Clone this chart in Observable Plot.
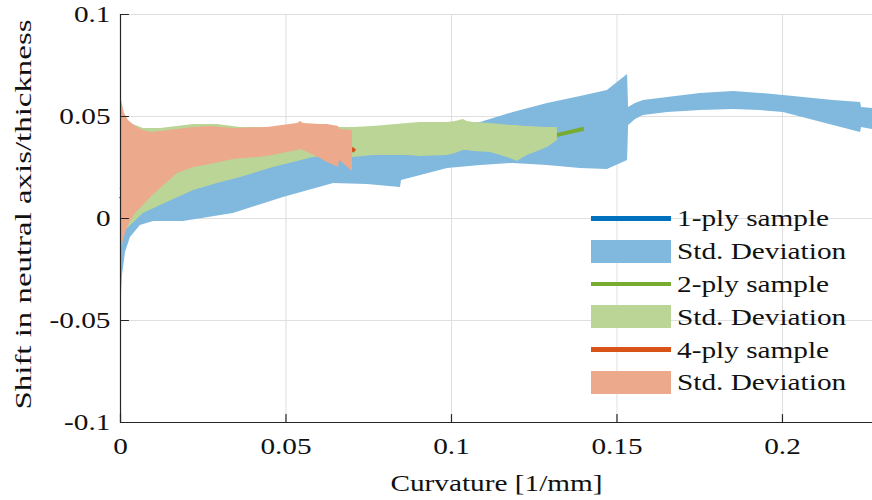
<!DOCTYPE html>
<html><head><meta charset="utf-8">
<script src="https://cdn.jsdelivr.net/npm/d3@7"></script>
<script src="https://cdn.jsdelivr.net/npm/@observablehq/plot@0.6"></script>
<style>
body{margin:0;background:#fff;}
#wrap{position:relative;width:872px;height:500px;font-family:'Liberation Serif',serif;}
#legend{position:absolute;left:591px;top:202px;}
.row{height:32.8px;display:flex;align-items:center;}
.sw{width:80px;margin-right:6px;}
.lab{font-size:24px;color:#111;transform:scaleX(1.22);transform-origin:left center;white-space:nowrap;line-height:1;font-family:'Liberation Serif',serif;}
</style></head><body><div id="wrap"><div id="legend"></div></div>
<script>
// 1-ply sample
const curv1 = [0,0.0006,0.0015,0.0030,0.0060,0.0100,0.0190,0.0341,0.0492,0.0644,0.0746,0.0846,0.0849,0.0988,0.1088,0.1187,0.1290,0.1390,0.1471,0.1532,0.1535,0.1556,0.1580,0.1653,0.1752,0.1852,0.1934,0.2003,0.2154,0.2236,0.2239,0.2272];
const lo1 = [-0.0451,-0.0279,-0.0167,-0.0093,-0.0034,-0.0015,-0.0015,0.0025,0.0103,0.0172,0.0167,0.0152,0.0186,0.0245,0.0260,0.0270,0.0260,0.0245,0.0240,0.0284,0.0456,0.0485,0.0505,0.0520,0.0529,0.0534,0.0529,0.0520,0.0456,0.0422,0.0446,0.0436];
const hi1 = [0.0652,0.0480,0.0333,0.0260,0.0235,0.0245,0.0284,0.0333,0.0373,0.0402,0.0422,0.0436,0.0436,0.0456,0.0471,0.0520,0.0564,0.0598,0.0627,0.0706,0.0544,0.0564,0.0578,0.0593,0.0613,0.0623,0.0613,0.0603,0.0578,0.0569,0.0544,0.0539];
const mean1 = [0.011,0.010,0.008,0.008,0.010,0.0115,0.0135,0.018,0.024,0.029,0.0295,0.0295,0.031,0.035,0.0365,0.0395,0.041,0.042,0.043,0.0495,0.050,0.052,0.054,0.0556,0.057,0.0578,0.057,0.056,0.0517,0.0495,0.0495,0.0487];

// 2-ply sample
const curv2 = [0,0.0009,0.0069,0.0121,0.0221,0.0293,0.0363,0.0462,0.0583,0.0665,0.0704,0.0764,0.0867,0.0906,0.0988,0.1012,0.1036,0.1048,0.1066,0.1118,0.1148,0.1178,0.1199,0.1218,0.1230,0.1290,0.1320];
const lo2 = [-0.0157,-0.0069,0.0025,0.0064,0.0137,0.0172,0.0201,0.0250,0.0299,0.0309,0.0299,0.0309,0.0309,0.0304,0.0309,0.0319,0.0333,0.0333,0.0328,0.0324,0.0309,0.0294,0.0279,0.0299,0.0309,0.0348,0.0382];
const hi2 = [0.0529,0.0480,0.0441,0.0441,0.0461,0.0461,0.0446,0.0446,0.0446,0.0446,0.0446,0.0451,0.0466,0.0471,0.0471,0.0475,0.0485,0.0475,0.0471,0.0466,0.0461,0.0456,0.0456,0.0451,0.0451,0.0446,0.0446];
const meanCurv2 = [0,0.009,0.024,0.039,0.054,0.070,0.085,0.100,0.115,0.132,0.140];
const mean2 = [0.018,0.021,0.029,0.033,0.035,0.037,0.038,0.039,0.039,0.041,0.044];

// 4-ply sample
const curv3 = [0,0.0003,0.0012,0.0024,0.0045,0.0069,0.0091,0.0121,0.0172,0.0221,0.0272,0.0341,0.0444,0.0535,0.0544,0.0553,0.0604,0.0625,0.0659,0.0662,0.0701];
const lo3 = [-0.0181,-0.0147,-0.0088,-0.0034,0.0025,0.0064,0.0103,0.0147,0.0221,0.0250,0.0265,0.0289,0.0304,0.0333,0.0338,0.0333,0.0294,0.0275,0.0250,0.0284,0.0230];
const hi3 = [0.0603,0.0578,0.0515,0.0480,0.0451,0.0431,0.0422,0.0426,0.0436,0.0446,0.0451,0.0441,0.0446,0.0466,0.0475,0.0466,0.0461,0.0461,0.0451,0.0436,0.0431];
const meanCurv3 = [0,0.009,0.024,0.039,0.054,0.066,0.0701,0.0708];
const mean3 = [0.014,0.022,0.030,0.034,0.037,0.035,0.034,0.033];

const xTicks = [0,0.05,0.1,0.15,0.2];
const xTickLabels = ["0","0.05","0.1","0.15","0.2"];
const yTicks = [-0.1,-0.05,0,0.05,0.1];
const yTickLabels = ["-0.1","-0.05","0","0.05","0.1"];
const xDomain = [0,0.2272];
const yDomain = [-0.1,0.1];
const xLabel = "Curvature [1/mm]";
const yLabel = "Shift in neutral axis/thickness";
const legendNames = ["1-ply sample","Std. Deviation","2-ply sample","Std. Deviation","4-ply sample","Std. Deviation"];

const lineColors = ["#0072BD","#77AC30","#D95319"];
const bandColors = ["#80B8DE","#BBD597","#ECA98C"];
const axisColor = "#262626";
const gridColor = "#dfdfdf";
const textColor = "#111";
const font = "'Liberation Serif', serif";

const tickShape = {draw(ctx, l){ ctx.moveTo(0,0); ctx.lineTo(0,-l); }};

const series = [
  {bx: curv1, lo: lo1, hi: hi1, mx: curv1, my: mean1},
  {bx: curv2, lo: lo2, hi: hi2, mx: meanCurv2, my: mean2},
  {bx: curv3, lo: lo3, hi: hi3, mx: meanCurv3, my: mean3}
];

const dataMarks = [];
series.forEach((s, k) => {
  dataMarks.push(Plot.line(d3.range(s.mx.length), {x: i => s.mx[i], y: i => s.my[i], stroke: lineColors[k], strokeWidth: 4, strokeLinecap: "butt"}));
  dataMarks.push(Plot.areaY(d3.range(s.bx.length), {x: i => s.bx[i], y1: i => s.lo[i], y2: i => s.hi[i], fill: bandColors[k], curve: "linear"}));
});

const chart = Plot.plot({
  width: 872, height: 500,
  marginLeft: 120, marginRight: 0, marginTop: 14, marginBottom: 78,
  style: {fontFamily: font, fontSize: "24px", background: "white", overflow: "visible", color: textColor},
  x: {domain: xDomain},
  y: {domain: yDomain},
  marks: [
    Plot.ruleX(xTicks, {stroke: gridColor, strokeWidth: 1}),
    Plot.ruleY(yTicks, {stroke: gridColor, strokeWidth: 1}),
    ...dataMarks,
    Plot.ruleX([xDomain[0]], {stroke: axisColor, strokeWidth: 1.2}),
    Plot.ruleY([yDomain[0]], {stroke: axisColor, strokeWidth: 1.2}),
    Plot.vector(xTicks, {x: d => d, y: yDomain[0], length: 8, rotate: 0, anchor: "start", shape: tickShape, stroke: axisColor, strokeWidth: 1.2}),
    Plot.vector(yTicks, {x: xDomain[0], y: d => d, length: 8, rotate: 90, anchor: "start", shape: tickShape, stroke: axisColor, strokeWidth: 1.2}),
    Plot.axisX(xTicks, {tickSize: 0, tickPadding: 14, tickFormat: d => xTickLabels[xTicks.indexOf(d)], label: null, fontSize: 24, fontFamily: font, fill: textColor}),
    Plot.axisY(yTicks, {tickSize: 0, tickPadding: 10, tickFormat: d => yTickLabels[yTicks.indexOf(d)], label: null, fontSize: 24, fontFamily: font, fill: textColor}),
    Plot.text([xLabel], {frameAnchor: "bottom", textAnchor: "middle", dy: 68, fontSize: 24, fontFamily: font, fill: textColor}),
    Plot.text([yLabel], {frameAnchor: "left", textAnchor: "middle", dx: -97, dy: -4, rotate: -90, fontSize: 24, fontFamily: font, fill: textColor})
  ]
});
document.getElementById("wrap").prepend(chart);

// widen the serif text to the proportions of the original (Computer Modern style)
chart.querySelectorAll("text").forEach(t => {
  const w = t.getComputedTextLength();
  const k = t.textContent === yLabel ? 1.37 : 1.22;
  t.setAttribute("textLength", (w * k).toFixed(1));
  t.setAttribute("lengthAdjust", "spacingAndGlyphs");
});

// legend
const legend = document.getElementById("legend");
legendNames.forEach((name, j) => {
  const k = Math.floor(j / 2);
  const isLine = j % 2 === 0;
  const row = document.createElement("div");
  row.className = "row";
  const sw = document.createElement("div");
  sw.className = "sw";
  sw.style.height = isLine ? "4.5px" : "23px";
  sw.style.background = isLine ? lineColors[k] : bandColors[k];
  const lab = document.createElement("span");
  lab.className = "lab";
  lab.textContent = name;
  row.appendChild(sw); row.appendChild(lab);
  legend.appendChild(row);
});
</script>
</body></html>
